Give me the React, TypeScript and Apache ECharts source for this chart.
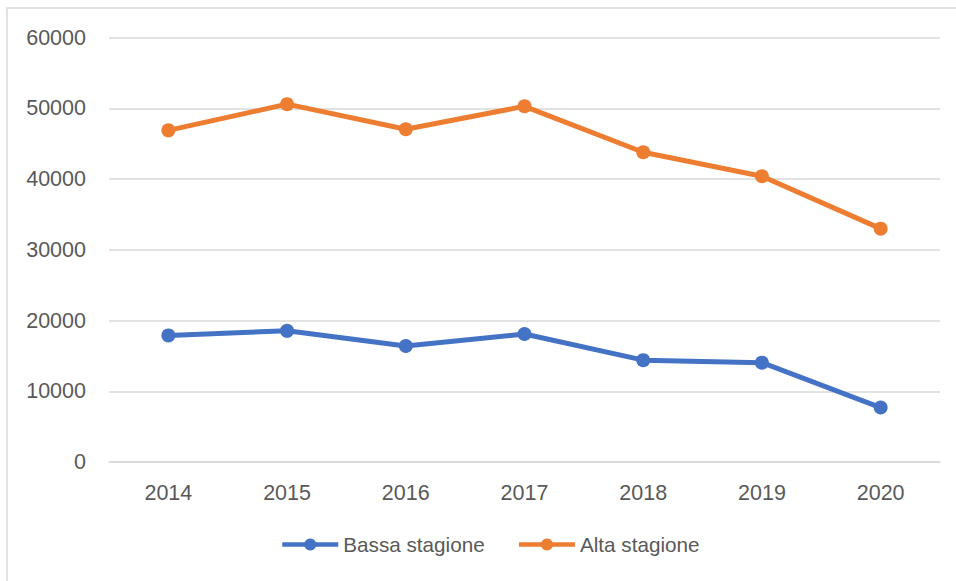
import React, { useEffect, useRef } from "react";
import * as echarts from "echarts";

const years = ["2014", "2015", "2016", "2017", "2018", "2019", "2020"];
const bassaStagione = [17900, 18550, 16400, 18100, 14400, 14050, 7700];
const altaStagione = [46900, 50600, 47050, 50300, 43800, 40400, 33000];
const seriesNames = ["Bassa stagione", "Alta stagione"];

const FONT = "'Liberation Sans', 'DejaVu Sans', sans-serif";

export default function App() {
  const ref = useRef<HTMLDivElement>(null);
  useEffect(() => {
    if (!ref.current) return;
    const chart = echarts.init(ref.current, undefined, { renderer: "svg" });
    chart.setOption({
      animation: false,
      backgroundColor: "#ffffff",
      graphic: [
        {
          type: "rect",
          shape: { x: 7, y: 8, width: 1000, height: 650 },
          style: { fill: "none", stroke: "#d9d9d9", lineWidth: 1.5 },
          silent: true,
          z: -1,
        },
      ],
      grid: { left: 109, right: 16, top: 37.7, bottom: 119, containLabel: false },
      legend: {
        bottom: 21,
        left: 275,
        padding: 5,
        itemWidth: 56,
        itemHeight: 15,
        itemGap: 32,
        lineStyle: { width: 4.5 },
        textStyle: { color: "#595959", fontSize: 20.7, fontFamily: FONT },
        data: seriesNames,
      },
      xAxis: {
        type: "category",
        data: years,
        boundaryGap: true,
        axisLine: { show: true, lineStyle: { color: "#d9d9d9", width: 1.5 } },
        axisTick: { show: false },
        axisLabel: { color: "#595959", fontSize: 21.5, fontFamily: FONT, margin: 20 },
      },
      yAxis: {
        type: "value",
        min: 0,
        max: 60000,
        interval: 10000,
        axisLine: { show: false },
        axisTick: { show: false },
        splitLine: { lineStyle: { color: "#d9d9d9", width: 1.5 } },
        axisLabel: {
          color: "#595959",
          fontSize: 21.5,
          fontFamily: FONT,
          margin: 23,
          formatter: (v: number) => String(v),
        },
      },
      series: [
        {
          name: seriesNames[0],
          type: "line",
          data: bassaStagione,
          color: "#4472c4",
          symbol: "circle",
          symbolSize: 14,
          lineStyle: { width: 5 },
        },
        {
          name: seriesNames[1],
          type: "line",
          data: altaStagione,
          color: "#ed7d31",
          symbol: "circle",
          symbolSize: 14,
          lineStyle: { width: 5 },
        },
      ],
    });
    return () => chart.dispose();
  }, []);
  return (
    <div
      ref={ref}
      style={{ position: "absolute", left: 0, top: 0, width: 956, height: 581 }}
    />
  );
}
